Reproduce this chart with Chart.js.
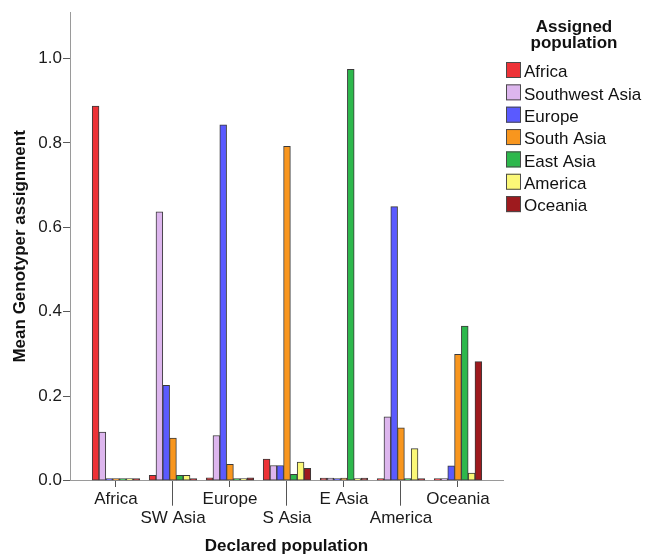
<!DOCTYPE html>
<html>
<head>
<meta charset="utf-8">
<title>Mean Genotyper assignment by declared population</title>
<script src="https://cdn.jsdelivr.net/npm/chart.js@4/dist/chart.umd.min.js"></script>
<style>
  html, body { margin: 0; padding: 0; background: #ffffff; }
  #wrap { width: 648px; height: 555px; }
</style>
</head>
<body>
<div id="wrap"><canvas id="chart" width="648" height="555"></canvas></div>
<script>
// Declared population (x categories) and assigned population (series)
const declared = ['Africa', 'SW Asia', 'Europe', 'S Asia', 'E Asia', 'America', 'Oceania'];
const assigned = ['Africa', 'Southwest Asia', 'Europe', 'South Asia', 'East Asia', 'America', 'Oceania'];

// Mean assignment to each population, one value per declared population
const africa        = [0.887, 0.013, 0.007, 0.051, 0.006, 0.000, 0.000];
const southwestAsia = [0.115, 0.637, 0.107, 0.036, 0.006, 0.151, 0.000];
const europe        = [0.000, 0.226, 0.843, 0.036, 0.000, 0.649, 0.035];
const southAsia     = [0.000, 0.101, 0.039, 0.792, 0.006, 0.125, 0.299];
const eastAsia      = [0.000, 0.013, 0.000, 0.015, 0.974, 0.000, 0.366];
const america       = [0.000, 0.013, 0.000, 0.044, 0.000, 0.076, 0.018];
const oceania       = [0.000, 0.000, 0.007, 0.029, 0.006, 0.000, 0.282];

const yTicks = [0, 0.2, 0.4, 0.6, 0.8, 1.0];
const legendTitle = ['Assigned', 'population'];

const palette = ['#ED3237', '#DDB6EE', '#5A5AFF', '#F8961E', '#2DB84C', '#FBF877', '#9E1A1E'];
const series = [africa, southwestAsia, europe, southAsia, eastAsia, america, oceania];

const FONT = '"Liberation Sans", Arial, Helvetica, sans-serif';
Chart.defaults.font.family = FONT;
Chart.defaults.color = '#1a1a1a';

const datasets = series.map((vals, k) => ({
  label: assigned[k],
  data: vals.map((v, i) => ({ x: i, y: v })),
  backgroundColor: palette[k],
  borderColor: '#3a3a3a',
  borderWidth: 1,
  borderSkipped: false,
  minBarLength: 2,
  barThickness: 6.8
}));

// Legend drawn to the right of the plot, SPSS style
const sideLegend = {
  id: 'sideLegend',
  afterDraw(chart) {
    const { ctx, chartArea } = chart;
    const x0 = chartArea.right + 3;
    ctx.save();
    ctx.textBaseline = 'middle';
    ctx.fillStyle = '#111111';
    ctx.font = 'bold 17px ' + FONT;
    ctx.textAlign = 'center';
    legendTitle.forEach((t, i) => ctx.fillText(t, x0 + 68, 27.6 + i * 16));
    ctx.textAlign = 'left';
    ctx.font = '17px ' + FONT;
    chart.data.datasets.forEach((ds, i) => {
      const top = 62 + i * 22.35;
      ctx.fillStyle = ds.backgroundColor;
      ctx.fillRect(x0, top, 15, 16);
      ctx.strokeStyle = '#4a4a4a';
      ctx.lineWidth = 1;
      ctx.strokeRect(x0 + 0.5, top + 0.5, 14, 15);
      ctx.fillStyle = '#111111';
      ctx.fillText(ds.label, x0 + 18, top + 10.6);
    });
    ctx.restore();
  }
};

new Chart(document.getElementById('chart'), {
  type: 'bar',
  data: { datasets },
  plugins: [sideLegend],
  options: {
    responsive: false,
    animation: false,
    layout: { padding: { top: 12, right: 145, bottom: 0, left: 0 } },
    plugins: {
      legend: { display: false },
      tooltip: { enabled: false }
    },
    scales: {
      x: {
        type: 'linear',
        offset: false,
        min: -0.807,
        max: 6.79,
        afterBuildTicks: s => { s.ticks = declared.map((_, i) => ({ value: i })); },
        afterFit: s => { s.height = 74.3; },
        border: { display: true, color: '#9a9a9a', width: 1 },
        grid: {
          display: true,
          offset: false,
          drawOnChartArea: false,
          drawTicks: true,
          tickLength: 25,
          tickColor: '#555555',
          tickWidth: 1,
          tickBorderDash: c => (c.index % 2 === 0 ? [6, 60] : [])
        },
        ticks: {
          autoSkip: false,
          maxRotation: 0,
          minRotation: 0,
          padding: -16.1,
          color: '#1a1a1a',
          font: { size: 17, lineHeight: 19 / 17 },
          callback: (v, i) => (i % 2 === 0 ? [declared[i], ''] : ['', declared[i]])
        },
        title: {
          display: true,
          text: 'Declared population',
          color: '#111111',
          font: { size: 17, weight: 'bold', lineHeight: 1 },
          padding: { top: 0, bottom: 0 }
        }
      },
      y: {
        min: 0,
        max: 1.11,
        afterBuildTicks: s => { s.ticks = yTicks.map(v => ({ value: v })); },
        afterFit: s => { s.width = 70; },
        border: { display: true, color: '#9a9a9a', width: 1 },
        grid: {
          display: true,
          drawOnChartArea: false,
          drawTicks: true,
          tickLength: 7,
          tickColor: '#5a5a5a'
        },
        ticks: {
          padding: 1,
          color: '#1a1a1a',
          font: { size: 17 },
          callback: v => v.toFixed(1)
        },
        title: {
          display: true,
          text: 'Mean Genotyper assignment',
          color: '#111111',
          font: { size: 17, weight: 'bold', lineHeight: 1 },
          padding: { top: 12, bottom: 0 }
        }
      }
    }
  }
});
</script>
</body>
</html>
